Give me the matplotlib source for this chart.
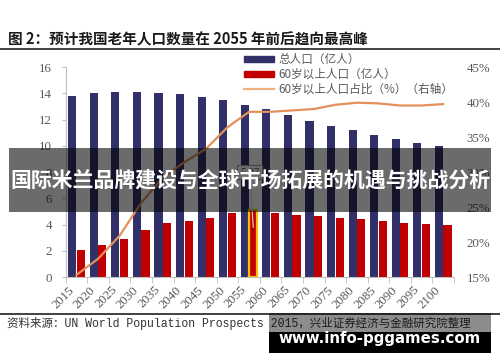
import matplotlib
matplotlib.use("Agg")
import matplotlib.pyplot as plt
import numpy as np
from matplotlib.patches import Rectangle
from matplotlib.lines import Line2D
from matplotlib.ticker import FuncFormatter

plt.rcParams['font.family'] = ['Noto Sans CJK SC', 'DejaVu Sans']

years = ['2015', '2020', '2025', '2030', '2035', '2040', '2045', '2050', '2055',
         '2060', '2065', '2070', '2075', '2080', '2085', '2090', '2095', '2100']
total_pop = [13.76, 14.03, 14.10, 14.10, 14.05, 13.95, 13.75, 13.48, 13.07,
             12.77, 12.35, 11.92, 11.52, 11.20, 10.82, 10.50, 10.20, 10.00]
pop_60 = [2.09, 2.45, 2.92, 3.55, 4.08, 4.28, 4.46, 4.88, 5.07,
          4.86, 4.73, 4.63, 4.53, 4.45, 4.30, 4.12, 4.02, 3.97]
share_60 = [15.3, 17.6, 20.9, 25.6, 29.2, 31.4, 33.3, 36.4, 38.6,
            38.6, 38.8, 39.0, 39.6, 39.9, 39.8, 39.5, 39.5, 39.7]
highlight_year = '2055'
label_total = '总人口（亿人）'
label_60 = '60岁以上人口（亿人）'
label_share = '60岁以上人口占比（%）（右轴）'
title = '图 2：预计我国老年人口数量在 2055 年前后趋向最高峰'
source = '资料来源：UN World Population Prospects 2015，兴业证券经济与金融研究院整理'
banner = '国际米兰品牌建设与全球市场拓展的机遇与挑战分析'
watermark = 'www.info-pggames.com'

BLUE = '#313068'
RED = '#C00000'
ORANGE = '#E3915A'
GRAY = '#595959'

fig = plt.figure(figsize=(5.0, 3.62), dpi=100)
ax = fig.add_axes([0.1314, 0.2348, 0.7766, 0.5801])
ax2 = ax.twinx()

x = np.arange(len(years))
w = 0.38
ax.bar(x - 0.2, total_pop, width=w, color=BLUE, zorder=2)
reds = ax.bar(x + 0.2, pop_60, width=w, color=RED, zorder=2)
hi = years.index(highlight_year)
reds[hi].set_edgecolor('#FFC000')
reds[hi].set_linewidth(1.6)

ax2.plot(x, share_60, color=ORANGE, lw=1.6, zorder=3)

ax.set_xlim(-0.5, len(years) - 0.5)
ax.set_ylim(0, 16)
ax2.set_ylim(15, 45)
ax.set_yticks(np.arange(0, 17, 2))
ax2.set_yticks(np.arange(15, 46, 5))
ax2.yaxis.set_major_formatter(FuncFormatter(lambda v, p: f'{v:.0f}%'))

ax.set_xticks(x)
ax.set_xticklabels(years, rotation=45, ha='right', va='top')
ax.set_xticks(np.arange(-0.5, len(years), 1.0), minor=True)
ax.tick_params(axis='x', which='major', length=0, pad=5)
ax.tick_params(axis='x', which='minor', length=4, color='#bfbfbf')
ax.tick_params(axis='y', length=3, color='#bfbfbf', pad=7)
ax2.tick_params(axis='y', length=0, pad=9)

for lab in ax.get_xticklabels() + ax.get_yticklabels() + ax2.get_yticklabels():
    lab.set_fontfamily(['Liberation Serif', 'DejaVu Serif'])
    lab.set_fontsize(9.3)
    lab.set_color(GRAY)

for a in (ax, ax2):
    for s in ('top', 'right'):
        a.spines[s].set_visible(False)
    a.spines['left'].set_color('#bfbfbf')
    a.spines['bottom'].set_color('#bfbfbf')
ax2.spines['left'].set_visible(False)
ax2.spines['bottom'].set_visible(False)

# callout for highlighted value
ax.annotate(f'{pop_60[hi]:.2f}', xy=(hi + 0.2, pop_60[hi] - 1.5), xytext=(hi + 0.04, 8.0),
            ha='center', va='center', fontsize=8, color=GRAY,
            fontfamily=['Liberation Serif', 'DejaVu Serif'],
            bbox=dict(boxstyle='square,pad=0.25', fc='white', ec='#a6a6a6', lw=0.8),
            arrowprops=dict(arrowstyle='-', color='#d9d9d9', lw=0.8), zorder=5)

handles = [Rectangle((0, 0), 1, 1, color=BLUE), Rectangle((0, 0), 1, 1, color=RED),
           Line2D([], [], color='#F0B07E', lw=1.6)]
leg = fig.legend(handles, [label_total, label_60, label_share], loc='upper left',
                 bbox_to_anchor=(0.488, 0.853), frameon=False, fontsize=8.4,
                 handlelength=2.6, handleheight=0.4, handletextpad=0.35,
                 labelspacing=0.15, borderpad=0, borderaxespad=0)
for t in leg.get_texts():
    t.set_color(GRAY)

# title and rules
fig.text(0.016, 0.891, title, fontsize=10.5, fontweight='bold', color='#1a1a1a',
         ha='left', va='center')
fig.add_artist(Line2D([0, 1], [0.8646, 0.8646], color='#333333', lw=1.3))
fig.add_artist(Line2D([0, 1], [0.1326, 0.1326], color='#333333', lw=1.3))
fig.text(0.014, 0.1064, source, fontsize=8.3, color='#333333', ha='left', va='center',
         family=['Liberation Mono', 'Noto Sans CJK SC'])

# banner overlay
fig.add_artist(Rectangle((0.018, 0.4144), 0.964, 0.1768, transform=fig.transFigure,
                         color='black', alpha=0.58, lw=0, zorder=10))
fig.text(0.5, 0.503, banner, fontsize=15, fontweight='bold', color='white',
         ha='center', va='center', zorder=11)

# watermark
fig.add_artist(Rectangle((0.538, 0.0829), 0.444, 0.0525, transform=fig.transFigure,
                         color='black', alpha=0.45, lw=0, zorder=10))
fig.add_artist(Rectangle((0.538, 0.0249), 0.444, 0.058, transform=fig.transFigure,
                         color='black', lw=0, zorder=10))
fig.text(0.759, 0.064, watermark, fontsize=10.8, fontweight='bold', color='white',
         ha='center', va='center', family='DejaVu Sans', zorder=11)

fig.savefig('out.png', dpi=100)
